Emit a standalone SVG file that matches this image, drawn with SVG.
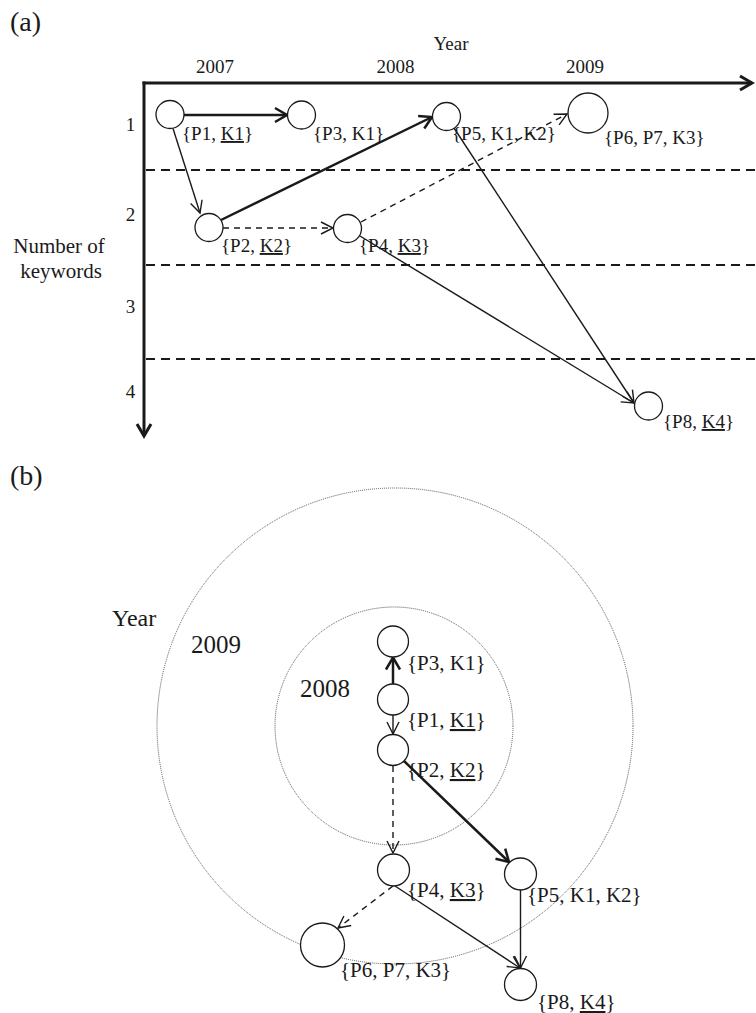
<svg xmlns="http://www.w3.org/2000/svg" width="756" height="1013" viewBox="0 0 756 1013">
<style>
text { font-family: "Liberation Serif", "Times New Roman", serif; fill: #1a1a1a; }
.lbl { font-size: 19px; }
.lblb { font-size: 21px; }
.u { text-decoration: underline; }
.node { fill: #fff; stroke: #1a1a1a; stroke-width: 1.3; }
.axis { stroke: #1a1a1a; stroke-width: 3; fill: none; marker-end: url(#ahAxis); }
.sep { stroke: #1a1a1a; stroke-width: 2; stroke-dasharray: 9 6; fill: none; }
.thick { stroke: #1a1a1a; stroke-width: 2.5; fill: none; marker-end: url(#ahThick); }
.thin { stroke: #1a1a1a; stroke-width: 1.4; fill: none; marker-end: url(#ahThin); }
.dash { stroke: #1a1a1a; stroke-width: 1.4; fill: none; stroke-dasharray: 6 5; marker-end: url(#ahThin); }
.year { fill: none; stroke: #555; stroke-width: 1; stroke-dasharray: 1 1; }
</style>
<defs>
<marker id="ahThin" markerUnits="userSpaceOnUse" markerWidth="20" markerHeight="20" refX="12" refY="7" orient="auto" overflow="visible">
<path d="M0,1 L12,7 L0,13" fill="none" stroke="#1a1a1a" stroke-width="1.4"/>
</marker>
<marker id="ahThick" markerUnits="userSpaceOnUse" markerWidth="20" markerHeight="20" refX="12" refY="7" orient="auto" overflow="visible">
<path d="M0,0 L12,7 L0,14" fill="none" stroke="#1a1a1a" stroke-width="2.5"/>
</marker>
<marker id="ahAxis" markerUnits="userSpaceOnUse" markerWidth="20" markerHeight="20" refX="12" refY="7" orient="auto" overflow="visible">
<path d="M0,0 L12,7 L0,14" fill="none" stroke="#1a1a1a" stroke-width="3"/>
</marker>
</defs>

<!-- (a) -->
<text x="10" y="31" style="font-size:28px">(a)</text>
<text x="451" y="50" class="lbl" text-anchor="middle">Year</text>
<text x="215" y="73" class="lbl" text-anchor="middle">2007</text>
<text x="395.5" y="73" class="lbl" text-anchor="middle">2008</text>
<text x="585" y="73" class="lbl" text-anchor="middle">2009</text>
<text x="130.5" y="131" class="lbl" text-anchor="middle">1</text>
<text x="130.5" y="221" class="lbl" text-anchor="middle">2</text>
<text x="130.5" y="313" class="lbl" text-anchor="middle">3</text>
<text x="130.5" y="398" class="lbl" text-anchor="middle">4</text>
<text x="59" y="253" style="font-size:21px" text-anchor="middle">Number of</text>
<text x="61" y="278" style="font-size:21px" text-anchor="middle">keywords</text>

<line class="axis" x1="142.5" y1="83" x2="752" y2="83"/>
<line class="axis" x1="144" y1="81.5" x2="144" y2="436"/>
<line class="sep" x1="146" y1="170" x2="756" y2="170"/>
<line class="sep" x1="146" y1="265" x2="756" y2="265"/>
<line class="sep" x1="146" y1="359" x2="756" y2="359"/>

<g id="connectors-a">
<line class="thick" x1="184" y1="115" x2="287" y2="115"/>
<line class="thin" x1="173" y1="128.5" x2="200" y2="213"/>
<line class="thick" x1="221" y1="220" x2="432" y2="117"/>
<line class="dash" x1="223" y1="228" x2="333" y2="228"/>
<line class="dash" x1="361" y1="222" x2="567" y2="114"/>
<line class="thin" x1="360" y1="236" x2="634" y2="403"/>
<line class="thin" x1="454" y1="128" x2="634" y2="403"/>
</g>

<g id="a-P1"><circle class="node" cx="170" cy="114.5" r="14"/><text class="lbl" x="182" y="140">{P1, <tspan class="u">K1</tspan>}</text></g>
<g id="a-P3"><circle class="node" cx="301.5" cy="115" r="14"/><text class="lbl" x="313" y="140">{P3, K1}</text></g>
<g id="a-P5"><circle class="node" cx="446.5" cy="116.5" r="14"/><text class="lbl" x="452" y="140">{P5, K1, K2}</text></g>
<g id="a-P6"><circle class="node" cx="588" cy="113" r="20"/><text class="lbl" x="604" y="144">{P6, P7, K3}</text></g>
<g id="a-P2"><circle class="node" cx="209" cy="227.5" r="14"/><text class="lbl" x="221" y="252">{P2, <tspan class="u">K2</tspan>}</text></g>
<g id="a-P4"><circle class="node" cx="347.5" cy="228.5" r="14"/><text class="lbl" x="359" y="252">{P4, <tspan class="u">K3</tspan>}</text></g>
<g id="a-P8"><circle class="node" cx="648.5" cy="406" r="14"/><text class="lbl" x="663" y="428">{P8, <tspan class="u">K4</tspan>}</text></g>

<!-- (b) -->
<text x="10" y="485" style="font-size:28px">(b)</text>
<circle class="year" cx="395" cy="726" r="238"/>
<circle class="year" cx="394" cy="726" r="119"/>
<text x="112" y="626" style="font-size:24px">Year</text>
<text x="191" y="653" style="font-size:25px">2009</text>
<text x="300" y="697" style="font-size:25px">2008</text>

<g id="connectors-b">
<line class="thick" x1="393" y1="684" x2="393" y2="657.5"/>
<line class="thin" x1="393" y1="715" x2="393" y2="734"/>
<line class="thick" x1="404" y1="761" x2="509" y2="862"/>
<line class="dash" x1="393" y1="766" x2="393" y2="853"/>
<line class="dash" x1="393" y1="886" x2="338" y2="928"/>
<line class="thin" x1="395" y1="886" x2="520" y2="968"/>
<line class="thin" x1="520.5" y1="890" x2="520.5" y2="968"/>
</g>

<g id="b-P3"><circle class="node" cx="393" cy="641.5" r="15.5"/><text class="lblb" x="407" y="670">{P3, K1}</text></g>
<g id="b-P1"><circle class="node" cx="393" cy="699.5" r="15.5"/><text class="lblb" x="407" y="727">{P1, <tspan class="u">K1</tspan>}</text></g>
<g id="b-P2"><circle class="node" cx="393" cy="750" r="15.5"/><text class="lblb" x="407" y="777">{P2, <tspan class="u">K2</tspan>}</text></g>
<g id="b-P4"><circle class="node" cx="393.5" cy="870" r="16"/><text class="lblb" x="407" y="897">{P4, <tspan class="u">K3</tspan>}</text></g>
<g id="b-P5"><circle class="node" cx="520.5" cy="874" r="16"/><text class="lblb" x="527" y="902">{P5, K1, K2}</text></g>
<g id="b-P6"><circle class="node" cx="322.5" cy="945" r="22"/><text class="lblb" x="340" y="977">{P6, P7, K3}</text></g>
<g id="b-P8"><circle class="node" cx="520.5" cy="984.5" r="16"/><text class="lblb" x="537" y="1009">{P8, <tspan class="u">K4</tspan>}</text></g>
</svg>
